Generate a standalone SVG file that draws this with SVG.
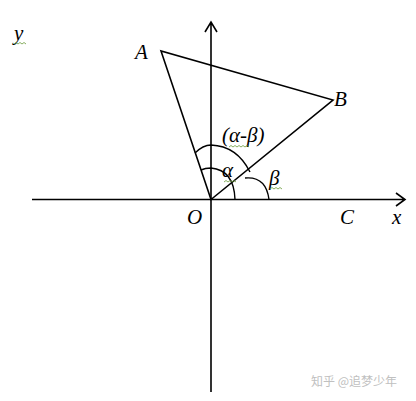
<svg xmlns="http://www.w3.org/2000/svg" width="416" height="401" viewBox="0 0 416 401">
<style>
.ln{stroke:#000;stroke-width:1.6;fill:none}
.arc{stroke:#000;stroke-width:1.4;fill:none}
.lbl{font-family:"Liberation Serif",serif;font-style:italic;font-size:21px;fill:#000}
.sq{stroke:#6a9a3a;stroke-width:0.8;fill:none}
.wm{font-family:"Noto Sans CJK SC",sans-serif;font-size:12px;fill:#c0c0c0}
</style>
<rect width="416" height="401" fill="#fff"/>
<g id="axes">
<path class="ln" d="M32,199.5 H405 M396,193 L405,199.5 L396,206"/>
<path class="ln" d="M211,392 V22 M205,32 L211,22 L217,32"/>
</g>
<g id="connectors">
<path class="ln" d="M211,199.5 L161,51 L333,100 Z"/>
</g>
<g id="arcs">
<path class="arc" d="M195,153 Q203,145 211,145 Q237,146 250,172"/>
<path class="arc" d="M201,170 Q205,168 211,168 Q234,170 235,199.5"/>
<path class="arc" d="M245,178 Q266,176 269,199.5"/>
</g>
<g id="labels">
<text class="lbl" x="14" y="40">y</text>
<text class="lbl" x="135" y="59">A</text>
<text class="lbl" x="334" y="106">B</text>
<text class="lbl" x="187" y="224">O</text>
<text class="lbl" x="340" y="224">C</text>
<text class="lbl" x="392" y="224">x</text>
<text class="lbl" x="222" y="142">(α-β)</text>
<text class="lbl" x="222" y="177">α</text>
<text class="lbl" x="269" y="185">β</text>
</g>
<g id="squiggles">
<path class="sq" d="M14,44 l2,-1.5 l2,1.5 l2,-1.5 l2,1.5 l2,-1.5 l2,1.5"/>
<path class="sq" d="M229,147 l2,-1.5 l2,1.5 l2,-1.5 l2,1.5 l2,-1.5 l2,1.5 l2,-1.5 l2,1.5 l2,-1.5 l2,1.5"/>
<path class="sq" d="M224,182 l2,-1.5 l2,1.5 l2,-1.5 l2,1.5 l2,-1.5 l2,1.5"/>
<path class="sq" d="M270,189 l2,-1.5 l2,1.5 l2,-1.5 l2,1.5 l2,-1.5 l2,1.5"/>
</g>
<text class="wm" x="311" y="386">知乎 @追梦少年</text>
</svg>
